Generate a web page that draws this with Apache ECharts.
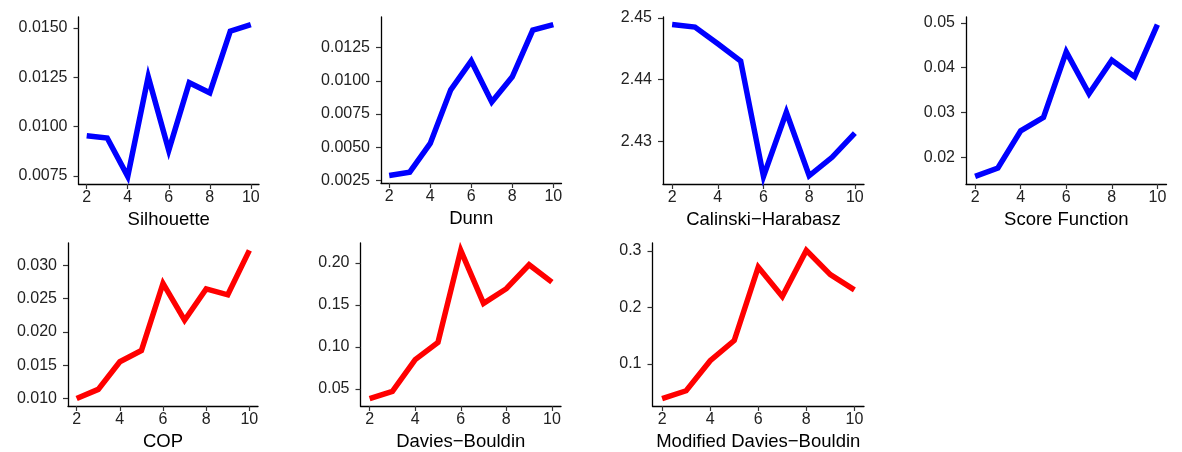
<!DOCTYPE html>
<html>
<head>
    <meta charset="utf-8">
    <script type="text/javascript" src="https://cdn.jsdelivr.net/npm/echarts@6/dist/echarts.min.js"></script>
    <style type="text/css">
        *{
            margin: 0;
            padding: 0;
        }
        body{
            background: #ffffff;
        }
        #main{
            width: 1182px;
            height: 452px;
        }
    </style>
</head>
<body>
    <div id="main"></div>

    <script type="text/javascript">
        // number of clusters (x axis)
        var ks = [2, 3, 4, 5, 6, 7, 8, 9, 10];
        var xTicks = [2, 4, 6, 8, 10];

        // index values
        var silhouette = [0.00954, 0.00942, 0.00748, 0.01252, 0.00880, 0.01222, 0.01171, 0.01483, 0.01516];
        var dunn = [0.00287, 0.00312, 0.00528, 0.00932, 0.01150, 0.00840, 0.01030, 0.01382, 0.01424];
        var calinski = [2.4489, 2.4485, 2.4458, 2.4430, 2.4243, 2.4347, 2.4244, 2.4274, 2.4313];
        var scoreFn = [0.01571, 0.01759, 0.02587, 0.02887, 0.04352, 0.03415, 0.04165, 0.03797, 0.04960];
        var cop = [0.01000, 0.01138, 0.01553, 0.01721, 0.02728, 0.02175, 0.02644, 0.02556, 0.03222];
        var daviesBouldin = [0.0387, 0.0473, 0.0850, 0.1054, 0.2148, 0.1519, 0.1693, 0.1977, 0.1771];
        var modDaviesBouldin = [0.0387, 0.0526, 0.1058, 0.1416, 0.2717, 0.2197, 0.3012, 0.2584, 0.2312];

        // y tick labels
        var silTicks = [0.0075, 0.0100, 0.0125, 0.0150];
        var dunnTicks = [0.0025, 0.0050, 0.0075, 0.0100, 0.0125];
        var chTicks = [2.43, 2.44, 2.45];
        var sfTicks = [0.02, 0.03, 0.04, 0.05];
        var copTicks = [0.010, 0.015, 0.020, 0.025, 0.030];
        var dbTicks = [0.05, 0.10, 0.15, 0.20];
        var mdbTicks = [0.1, 0.2, 0.3];

        var panels = [
            {name: 'Silhouette', data: silhouette, ticks: silTicks, dec: 4, color: '#0000ff'},
            {name: 'Dunn', data: dunn, ticks: dunnTicks, dec: 4, color: '#0000ff'},
            {name: 'Calinski\u2212Harabasz', data: calinski, ticks: chTicks, dec: 2, color: '#0000ff'},
            {name: 'Score Function', data: scoreFn, ticks: sfTicks, dec: 2, color: '#0000ff'},
            {name: 'COP', data: cop, ticks: copTicks, dec: 3, color: '#ff0000'},
            {name: 'Davies\u2212Bouldin', data: daviesBouldin, ticks: dbTicks, dec: 2, color: '#ff0000'},
            {name: 'Modified Davies\u2212Bouldin', data: modDaviesBouldin, ticks: mdbTicks, dec: 1, color: '#ff0000'}
        ];

        // panel placement: left, top, width, height
        var boxes = [
            [78.5, 17, 180.5, 167],
            [381, 17, 180.5, 166],
            [663, 17, 201, 167],
            [966, 17, 200.5, 167],
            [68, 243, 190, 168.5],
            [360.5, 243, 200.5, 168.5],
            [652.5, 243, 211.5, 168.5]
        ];

        var font = 'Liberation Sans';
        var grids = [], xAxes = [], yAxes = [], series = [];

        panels.forEach(function (p, i) {
            var b = boxes[i];
            var lo = Math.min.apply(null, p.data), hi = Math.max.apply(null, p.data);
            var pad = (hi - lo) * 0.05;

            grids.push({left: b[0], top: b[1], width: b[2], height: b[3], containLabel: false});

            xAxes.push({
                gridIndex: i,
                type: 'value',
                min: 1.6,
                max: 10.4,
                name: p.name,
                nameLocation: 'middle',
                nameGap: 26,
                nameTextStyle: {fontFamily: font, fontSize: 18.5, color: '#000'},
                axisLine: {show: true, onZero: false, lineStyle: {color: '#000', width: 1.3}},
                axisTick: {show: true, length: 5, customValues: xTicks, lineStyle: {color: '#333', width: 1.2}},
                axisLabel: {customValues: xTicks, margin: 6, fontFamily: font, fontSize: 16, color: '#222'},
                splitLine: {show: false}
            });

            yAxes.push({
                gridIndex: i,
                type: 'value',
                min: lo - pad,
                max: hi + pad,
                axisLine: {show: true, onZero: false, lineStyle: {color: '#000', width: 1.3}},
                axisTick: {show: true, length: 5, customValues: p.ticks, lineStyle: {color: '#333', width: 1.2}},
                axisLabel: {
                    customValues: p.ticks,
                    margin: 11,
                    fontFamily: font,
                    fontSize: 16,
                    color: '#222',
                    formatter: (function (d) {
                        return function (v) { return v.toFixed(d); };
                    })(p.dec)
                },
                splitLine: {show: false}
            });

            series.push({
                type: 'line',
                xAxisIndex: i,
                yAxisIndex: i,
                symbol: 'none',
                silent: true,
                animation: false,
                lineStyle: {color: p.color, width: 5.5, join: 'miter'},
                data: ks.map(function (k, j) { return [k, p.data[j]]; })
            });
        });

        var myChart = echarts.init(document.getElementById('main'), null, {renderer: 'canvas'});
        myChart.setOption({
            backgroundColor: '#ffffff',
            animation: false,
            grid: grids,
            xAxis: xAxes,
            yAxis: yAxes,
            series: series
        });
    </script>
</body>
</html>
